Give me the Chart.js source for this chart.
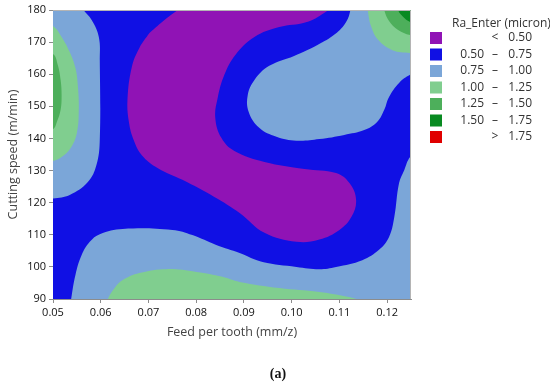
<!DOCTYPE html>
<html lang="en">
<head>
<meta charset="UTF-8">
<title>Ra_Enter contour</title>
<script src="https://cdn.jsdelivr.net/npm/chart.js@4.4.0/dist/chart.umd.min.js"></script>
<style>
  html, body { margin: 0; padding: 0; background: #fff; }
  .chart-box { position: relative; width: 550px; height: 386px; }
</style>
</head>
<body>
<div class="chart-box"><canvas id="contourChart"></canvas></div>
<script>
// axes
const xTicks = [0.05, 0.06, 0.07, 0.08, 0.09, 0.10, 0.11, 0.12];
const yTicks = [90, 100, 110, 120, 130, 140, 150, 160, 170, 180];
const xRange = [0.05, 0.125];
const yRange = [90, 180];

// legend bands
const bandLow = ['', '0.50', '0.75', '1.00', '1.25', '1.50', ''];
const bandSym = ['<', '–', '–', '–', '–', '–', '>'];
const bandHigh = ['0.50', '0.75', '1.00', '1.25', '1.50', '1.75', '1.75'];
const bandColors = ['#9013B5', '#1010E4', '#7BA6D8', '#80CE8F', '#4DAF5B', '#088A21', '#E00000'];

// contour region outlines, [feed, speed]
const leftLightBlue = [[0.0472,184.7],[0.0548,184.7],[0.0561,180.6],[0.0581,176.9],[0.0596,171.6],[0.0598,164.4],[0.0598,139.5],[0.0591,131.7],[0.0573,126.4],[0.0535,122.4],[0.0500,121.3],[0.0472,120.8]];
const leftLightGreen = [[0.0472,176.3],[0.0500,175.0],[0.0518,171.6],[0.0535,166.9],[0.0547,161.9],[0.0552,156.6],[0.0554,148.9],[0.0550,141.7],[0.0537,137.0],[0.0518,134.2],[0.0500,133.0],[0.0472,132.4]];
const leftGreen = [[0.0472,166.9],[0.0500,166.3],[0.0510,162.9],[0.0516,158.2],[0.0518,153.5],[0.0516,148.9],[0.0508,145.1],[0.0500,142.9],[0.0472,142.3]];
const purpleMain = [[0.0702,172.8],[0.0736,177.2],[0.0767,180.6],[0.0805,184.7],[0.1050,184.7],[0.1085,181.6],[0.1068,179.1],[0.1030,176.2],[0.0974,174.7],[0.0922,171.6],[0.0882,166.0],[0.0859,159.8],[0.0845,152.6],[0.0840,146.4],[0.0853,140.1],[0.0880,136.1],[0.0943,132.7],[0.1027,130.5],[0.1093,129.2],[0.1121,126.1],[0.1135,120.8],[0.1125,115.5],[0.1100,111.5],[0.1058,108.5],[0.1010,107.8],[0.0943,110.6],[0.0891,116.8],[0.0838,121.8],[0.0771,127.1],[0.0719,130.8],[0.0686,134.8],[0.0669,139.5],[0.0659,145.1],[0.0656,152.0],[0.0665,162.2],[0.0681,168.2]];
const rightLightBlue = [[0.1125,184.7],[0.1267,184.7],[0.1267,160.7],[0.1248,159.8],[0.1225,157.3],[0.1204,152.9],[0.1194,148.9],[0.1179,145.1],[0.1152,142.6],[0.1110,141.1],[0.1058,139.8],[0.1010,139.3],[0.0968,140.5],[0.0932,143.3],[0.0910,148.2],[0.0908,153.5],[0.0922,158.2],[0.0953,162.6],[0.1005,165.7],[0.1054,169.1],[0.1091,172.5],[0.1114,176.3],[0.1123,180.0]];
const cornerLightGreen = [[0.1158,184.7],[0.1160,179.4],[0.1167,174.7],[0.1181,170.7],[0.1211,167.5],[0.1248,166.6],[0.1267,166.3],[0.1267,184.7]];
const cornerGreen = [[0.1190,184.7],[0.1194,180.0],[0.1204,176.6],[0.1223,173.8],[0.1248,172.2],[0.1267,171.9],[0.1267,184.7]];
const cornerDarkGreen = [[0.1219,184.7],[0.1223,180.0],[0.1236,177.5],[0.1248,176.3],[0.1267,175.6],[0.1267,184.7]];
const bottomLightBlue = [[0.0535,86.6],[0.0538,90.0],[0.0547,97.5],[0.0560,103.7],[0.0577,107.8],[0.0598,110.2],[0.0646,111.8],[0.0750,111.5],[0.0792,109.9],[0.0842,106.8],[0.0891,104.3],[0.0939,101.5],[0.1010,100.0],[0.1058,99.3],[0.1093,100.0],[0.1148,102.1],[0.1183,105.3],[0.1204,109.3],[0.1215,115.5],[0.1225,126.1],[0.1236,130.2],[0.1248,134.2],[0.1267,136.4],[0.1267,86.6]];
const bottomLightGreen = [[0.0608,86.6],[0.0615,90.0],[0.0629,93.4],[0.0646,95.9],[0.0681,98.1],[0.0738,99.3],[0.0801,98.4],[0.0855,96.9],[0.0891,95.3],[0.0974,93.4],[0.1058,92.2],[0.1120,90.6],[0.1145,89.4],[0.1175,86.6]];

// painted bottom to top, base level (0.50-0.75) fills the plot area
const regions = [
    { pts: leftLightBlue, band: 2 },
    { pts: rightLightBlue, band: 2 },
    { pts: bottomLightBlue, band: 2 },
    { pts: leftLightGreen, band: 3 },
    { pts: cornerLightGreen, band: 3 },
    { pts: bottomLightGreen, band: 3 },
    { pts: leftGreen, band: 4 },
    { pts: cornerGreen, band: 4 },
    { pts: cornerDarkGreen, band: 5 },
    { pts: purpleMain, band: 0 }
];

const font = '"Open Sans", "DejaVu Sans", sans-serif';

const plotExtras = {
    id: 'plotExtras',
    beforeDatasetsDraw(chart) {
        const a = chart.chartArea, ctx = chart.ctx;
        ctx.save();
        ctx.fillStyle = bandColors[1];
        ctx.fillRect(a.left, a.top, a.right - a.left, a.bottom - a.top);
        ctx.restore();
    },
    afterDatasetsDraw(chart) {
        const a = chart.chartArea, ctx = chart.ctx;
        ctx.save();
        ctx.strokeStyle = '#b4b4b4';
        ctx.lineWidth = 1;
        ctx.beginPath();
        ctx.moveTo(a.left, a.top + 0.5);
        ctx.lineTo(a.right - 0.5, a.top + 0.5);
        ctx.lineTo(a.right - 0.5, a.bottom);
        ctx.stroke();
        ctx.restore();
    },
    afterDraw(chart) {
        const ctx = chart.ctx;
        ctx.save();
        ctx.fillStyle = '#333';
        ctx.textBaseline = 'middle';
        ctx.font = '12px ' + font;
        ctx.textAlign = 'left';
        ctx.fillText('Ra_Enter (micron)', 452, 24);
        for (let i = 0; i < bandColors.length; i++) {
            const cy = 38 + i * 16.5;
            ctx.fillStyle = bandColors[i];
            ctx.fillRect(430, cy - 6, 12, 12);
            ctx.fillStyle = '#333';
            ctx.textAlign = 'right';
            if (bandLow[i]) ctx.fillText(bandLow[i], 484, cy);
            ctx.fillText(bandHigh[i], 532, cy);
            ctx.textAlign = 'center';
            ctx.fillText(bandSym[i], 495, cy);
        }
        ctx.font = 'bold 14px "Liberation Serif", serif';
        ctx.fillStyle = '#111';
        ctx.textAlign = 'center';
        ctx.fillText('(a)', 278, 374);
        ctx.restore();
    }
};

const axisGrid = { drawOnChartArea: false, drawTicks: true, tickLength: 4, color: '#8c8c8c' };

new Chart(document.getElementById('contourChart'), {
    type: 'scatter',
    data: {
        datasets: regions.map((r, i) => ({
            data: r.pts.concat([r.pts[0]]).map(p => ({ x: p[0], y: p[1] })),
            showLine: true,
            fill: 'shape',
            backgroundColor: bandColors[r.band],
            borderColor: 'transparent',
            borderWidth: 0,
            pointRadius: 0,
            tension: 0.4,
            order: regions.length - i
        }))
    },
    options: {
        responsive: true,
        maintainAspectRatio: false,
        animation: false,
        layout: { padding: { left: 2, top: 10, right: 139, bottom: 42 } },
        plugins: {
            legend: { display: false },
            tooltip: { enabled: false }
        },
        scales: {
            x: {
                type: 'linear',
                min: xRange[0],
                max: xRange[1],
                afterBuildTicks: s => { s.ticks = xTicks.map(v => ({ value: v })); },
                afterFit: s => { s.height = 45; },
                grid: axisGrid,
                border: { color: '#8c8c8c' },
                ticks: {
                    autoSkip: false, maxRotation: 0, padding: 3,
                    color: '#111', font: { family: font, size: 11 },
                    callback: v => v.toFixed(2)
                },
                title: {
                    display: true, text: 'Feed per tooth (mm/z)', color: '#444',
                    font: { family: font, size: 12.5 }, padding: { top: 4, bottom: 4 }
                }
            },
            y: {
                type: 'linear',
                min: yRange[0],
                max: yRange[1],
                afterBuildTicks: s => { s.ticks = yTicks.map(v => ({ value: v })); },
                afterFit: s => { s.width = 51; },
                grid: axisGrid,
                border: { color: '#8c8c8c' },
                ticks: {
                    autoSkip: false, padding: 3,
                    color: '#111', font: { family: font, size: 11 }
                },
                title: {
                    display: true, text: 'Cutting speed (m/min)', color: '#444',
                    font: { family: font, size: 12.5 }, padding: { top: 4, bottom: 4 }
                }
            }
        }
    },
    plugins: [plotExtras]
});
</script>
</body>
</html>
